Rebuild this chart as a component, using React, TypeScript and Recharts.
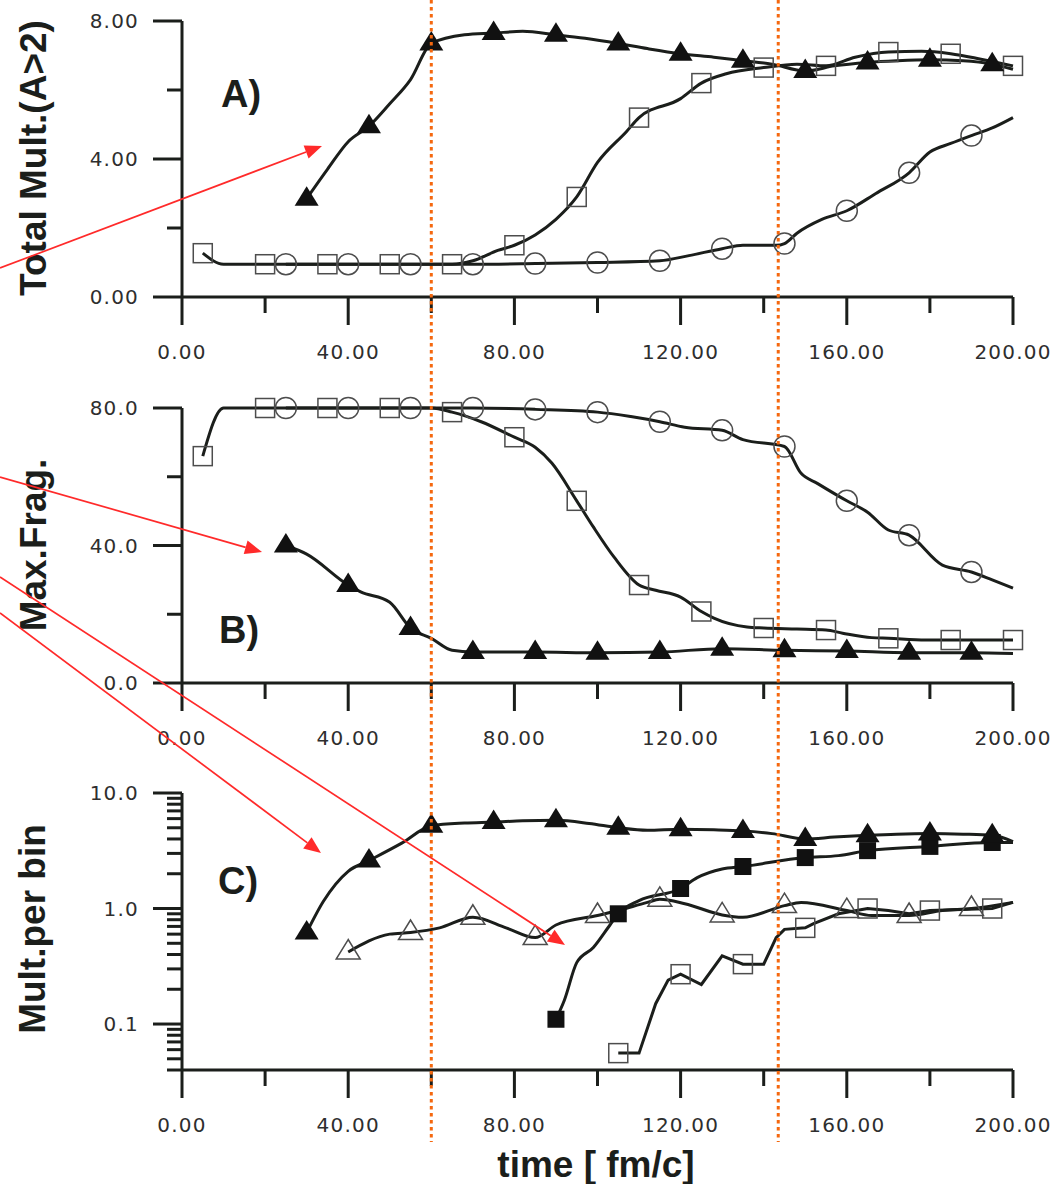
import { Line, LineChart, XAxis, YAxis } from "recharts";

// ---- data (time in fm/c) ----
const X_MAJOR = [0, 40, 80, 120, 160, 200];
const X_MINOR = [20, 60, 100, 140, 180];

// A) total multiplicity
const A_Y_MAJOR = [0, 4, 8];
const A_Y_MINOR = [2, 6];
const A_TRI_T = [30, 35, 40, 45, 50, 55, 60, 68, 75, 82, 90, 97, 105, 112, 120, 128, 135, 142, 150, 157, 165, 172, 180, 188, 195, 200];
const A_TRI_V = [2.85, 3.7, 4.5, 4.95, 5.6, 6.3, 7.35, 7.6, 7.65, 7.7, 7.6, 7.5, 7.35, 7.2, 7.05, 6.95, 6.85, 6.75, 6.55, 6.7, 6.8, 6.85, 6.88, 6.85, 6.75, 6.6];
const A_TRI_M = [30, 45, 60, 75, 90, 105, 120, 135, 150, 165, 180, 195];
const A_SQ_T = [5, 10, 20, 35, 50, 65, 70, 76, 80, 85, 90, 95, 100, 107, 110, 120, 125, 131, 140, 148, 155, 162, 170, 178, 185, 192, 200];
const A_SQ_V = [1.27, 0.95, 0.95, 0.95, 0.95, 0.95, 1.05, 1.35, 1.5, 1.8, 2.25, 2.9, 3.9, 4.8, 5.2, 5.75, 6.2, 6.47, 6.65, 6.75, 6.7, 6.95, 7.1, 7.12, 7.05, 6.9, 6.7];
const A_SQ_M = [5, 20, 35, 50, 65, 80, 95, 110, 125, 140, 155, 170, 185, 200];
const A_CIR_T = [25, 40, 55, 70, 85, 100, 115, 122, 130, 135, 143, 145, 148, 154, 160, 167, 175, 180, 185, 190, 195, 200];
const A_CIR_V = [0.95, 0.95, 0.95, 0.95, 0.97, 1.0, 1.05, 1.2, 1.4, 1.5, 1.5, 1.55, 1.85, 2.25, 2.5, 3.0, 3.6, 4.2, 4.45, 4.68, 4.9, 5.2];
const A_CIR_M = [25, 40, 55, 70, 85, 100, 115, 130, 145, 160, 175, 190];

// B) max. fragment
const B_Y_MAJOR = [0, 40, 80];
const B_Y_MINOR = [20, 60];
const B_SQ_T = [5, 10, 20, 35, 50, 60, 65, 72, 80, 85, 89, 95, 99, 104, 110, 114, 120, 125, 128, 136, 140, 148, 155, 159, 166, 170, 179, 185, 200];
const B_SQ_V = [66, 80, 80, 80, 80, 80, 78.8, 76, 71.5, 68.6, 64, 53, 45.4, 36.6, 28.5, 27, 25, 20.8, 18.9, 16.3, 16, 15.7, 15.4, 14.5, 13.2, 13, 12.5, 12.5, 12.5];
const B_SQ_M = [5, 20, 35, 50, 65, 80, 95, 110, 125, 140, 155, 170, 185, 200];
const B_CIR_T = [25, 40, 55, 70, 85, 100, 108, 115, 121, 130, 135, 145, 149, 153, 160, 165, 170, 175, 183, 190, 195, 200];
const B_CIR_V = [80, 80, 80, 80, 79.6, 78.8, 77.5, 76, 74.4, 73.5, 70.8, 68.8, 61, 58, 53, 49.7, 44.5, 43, 34.3, 32.3, 30, 27.6];
const B_CIR_M = [25, 40, 55, 70, 85, 100, 115, 130, 145, 160, 175, 190];
const B_TRI_T = [25, 30, 40, 43, 50, 55, 60, 65, 70, 85, 100, 115, 130, 145, 160, 175, 190, 200];
const B_TRI_V = [40, 37.5, 28.5, 26.5, 23.5, 16, 13, 9.5, 9, 9, 8.8, 9, 10, 9.5, 9.3, 8.8, 8.8, 8.6];
const B_TRI_M = [25, 40, 55, 70, 85, 100, 115, 130, 145, 160, 175, 190];

// C) multiplicity per bin (log)
const C_Y_MAJOR = [0.1, 1, 10];
const C_Y_MINOR = [0.04, 0.05, 0.06, 0.07, 0.08, 0.09, 0.2, 0.3, 0.4, 0.5, 0.6, 0.7, 0.8, 0.9, 2, 3, 4, 5, 6, 7, 8, 9];
const C_TRI_T = [30, 34, 40, 45, 53, 60, 68, 75, 82, 90, 98, 105, 112, 120, 128, 135, 142, 150, 157, 165, 172, 180, 188, 195, 200];
const C_TRI_V = [0.62, 1.15, 2.1, 2.6, 3.7, 5.2, 5.5, 5.6, 5.75, 5.8, 5.45, 5.0, 4.75, 4.85, 4.8, 4.7, 4.45, 4.0, 4.15, 4.3, 4.4, 4.45, 4.4, 4.3, 3.8];
const C_TRI_M = [30, 45, 60, 75, 90, 105, 120, 135, 150, 165, 180, 195];
const C_FSQ_T = [90, 92, 95, 99, 103, 105, 110, 120, 124, 130, 135, 150, 158, 165, 180, 195, 200];
const C_FSQ_V = [0.11, 0.16, 0.34, 0.46, 0.72, 0.9, 1.17, 1.49, 1.85, 2.2, 2.31, 2.76, 2.87, 3.17, 3.45, 3.73, 3.73];
const C_FSQ_M = [90, 105, 120, 135, 150, 165, 180, 195];
const C_OTRI_T = [40, 50, 55, 62, 70, 78, 85, 90, 100, 105, 112, 115, 121, 130, 135, 145, 149, 160, 166, 175, 183, 190, 200];
const C_OTRI_V = [0.42, 0.6, 0.62, 0.68, 0.84, 0.68, 0.56, 0.72, 0.87, 0.96, 1.13, 1.2, 1.1, 0.88, 0.84, 1.06, 1.13, 0.96, 0.87, 0.87, 0.96, 1.0, 1.13];
const C_OTRI_M = [40, 55, 70, 85, 100, 115, 130, 145, 160, 175, 190];
const C_OSQ_T = [105, 110, 114, 117, 120, 125, 130, 135, 140, 143, 145, 150, 152, 158, 165, 170, 175, 180, 195, 200];
const C_OSQ_V = [0.056, 0.056, 0.15, 0.24, 0.27, 0.22, 0.39, 0.33, 0.33, 0.56, 0.66, 0.68, 0.74, 0.9, 1.0, 0.96, 0.9, 0.96, 1.0, 1.13];
const C_OSQ_M = [105, 120, 135, 150, 165, 180, 195];

// annotations: the two dotted time marks and the red arrows
const MARK_TIMES = [60, 143.5];
const ARROWS = [
  [0, 268, 322, 146],
  [0, 477, 262, 552],
  [0, 613, 321, 853],
  [0, 577, 565, 945],
];

// ---- layout ----
const W = 1057;
const PLOT_LEFT = 182;
const PLOT_RIGHT = 1013;
const X_AXIS_H = 60;
const INK = "#1b1e1b";
const OPEN = "#4d4d4d";
const SANS = "'Liberation Sans', Arial, sans-serif";
const TICK_FONT = "'DejaVu Sans', sans-serif";

// tick lengths (major/minor) and gap between tick end and label
const X_TICK = { major: 28, minor: 16, gap: 20 };
const Y_TICK = { major: 29, minor: 15, gap: 14 };

// where each panel sits on the page
const PANEL_A = { top: 0, height: 380, plotTop: 21, plotH: 276, yDomain: [0, 8] as [number, number], yMajor: A_Y_MAJOR, log: false };
const PANEL_B = { top: 380, height: 380, plotTop: 28, plotH: 275, yDomain: [0, 80] as [number, number], yMajor: B_Y_MAJOR, log: false };
const PANEL_C = { top: 760, height: 424, plotTop: 33, plotH: 277, yDomain: [0.04, 10] as [number, number], yMajor: C_Y_MAJOR, log: true };

type Marker = "tri" | "otri" | "sq" | "fsq" | "cir";

const pts = (t: number[], v: number[]) => t.map((x, i) => ({ t: x, v: v[i] }));
const merged = (a: number[], b: number[]) => [...a, ...b].sort((p, q) => p - q);

function TickLabel({ x, y, dy, anchor, text }: { x: number; y: number; dy: string; anchor: "middle" | "end"; text: string }) {
  return (
    <text x={x} y={y} dy={dy} textAnchor={anchor} fontSize={20} fontFamily={TICK_FONT} fill="#2e2e2e" stroke="none" letterSpacing={1.2}>
      {text}
    </text>
  );
}

// each axis carries major + minor ticks; the renderer draws the short minor
// tick lines and the labels of the major ones
function xTick(major: number[], fmt: (v: number) => string, axisY: number) {
  const isMajor = new Set(major);
  return (p: any) => {
    const v = p.payload?.value;
    if (isMajor.has(v)) {
      return <TickLabel x={p.x} y={axisY + X_TICK.major + X_TICK.gap} dy="0.71em" anchor="middle" text={fmt(v)} />;
    }
    return <line x1={p.x} x2={p.x} y1={axisY} y2={axisY + X_TICK.minor} stroke={INK} strokeWidth={3} />;
  };
}

function yTick(major: number[], fmt: (v: number) => string, axisX: number) {
  const isMajor = new Set(major);
  return (p: any) => {
    const v = p.payload?.value;
    if (isMajor.has(v)) {
      return <TickLabel x={axisX - Y_TICK.major - Y_TICK.gap} y={p.y} dy="0.36em" anchor="end" text={fmt(v)} />;
    }
    return <line x1={axisX - Y_TICK.minor} x2={axisX} y1={p.y} y2={p.y} stroke={INK} strokeWidth={3} />;
  };
}

function MarkerShape({ kind, cx, cy }: { kind: Marker; cx: number; cy: number }) {
  switch (kind) {
    case "tri":
    case "otri": {
      const p = `${cx},${cy - 12.5} ${cx - 12},${cy + 7} ${cx + 12},${cy + 7}`;
      return kind === "tri" ? (
        <polygon points={p} fill="#111" />
      ) : (
        <polygon points={p} fill="none" stroke={OPEN} strokeWidth={1.5} />
      );
    }
    case "sq":
      return <rect x={cx - 9.5} y={cy - 9.5} width={19} height={19} fill="none" stroke={OPEN} strokeWidth={1.5} />;
    case "fsq":
      return <rect x={cx - 8.5} y={cy - 8.5} width={17} height={17} fill="#111" />;
    default:
      return <circle cx={cx} cy={cy} r={10.5} fill="none" stroke={OPEN} strokeWidth={1.5} />;
  }
}

function makeDot(kind: Marker, marks: number[]) {
  const on = new Set(marks);
  return (p: any) => {
    const key = `${kind}-${p.index}`;
    if (p.cx == null || p.cy == null || !on.has(p.payload?.t)) return <g key={key} />;
    return (
      <g key={key}>
        <MarkerShape kind={kind} cx={p.cx} cy={p.cy} />
      </g>
    );
  };
}

interface Series {
  id: string;
  t: number[];
  v: number[];
  marks: number[];
  kind: Marker;
  curve?: "monotone" | "linear";
}

interface PanelProps {
  geo: typeof PANEL_A;
  yMinor: number[];
  yFmt: (v: number) => string;
  series: Series[];
}

function Panel({ geo, yMinor, yFmt, series }: PanelProps) {
  const { top, height, plotTop, plotH, yDomain, yMajor, log } = geo;
  const bottom = height - plotTop - plotH - X_AXIS_H;
  return (
    <div style={{ position: "absolute", left: 0, top }}>
      <LineChart width={W} height={height} margin={{ top: plotTop, right: W - PLOT_RIGHT, bottom, left: 0 }}>
        <XAxis
          type="number"
          dataKey="t"
          domain={[0, 200]}
          ticks={merged(X_MAJOR, X_MINOR)}
          interval={0}
          tick={xTick(X_MAJOR, (v) => v.toFixed(2), plotTop + plotH)}
          tickSize={X_TICK.major}
          tickMargin={X_TICK.gap}
          tickLine={{ stroke: "none" }}
          axisLine={{ stroke: INK, strokeWidth: 3 }}
          height={X_AXIS_H}
        />
        <YAxis
          type="number"
          scale={log ? "log" : "auto"}
          domain={yDomain}
          ticks={merged(yMajor, yMinor)}
          interval={0}
          tick={yTick(yMajor, yFmt, PLOT_LEFT)}
          tickSize={Y_TICK.major}
          tickMargin={Y_TICK.gap}
          tickLine={{ stroke: "none" }}
          axisLine={{ stroke: INK, strokeWidth: 3 }}
          width={PLOT_LEFT}
        />
        {series.map((s) => (
          <Line
            key={s.id}
            data={pts(s.t, s.v)}
            dataKey="v"
            type={s.curve ?? "monotone"}
            stroke={INK}
            strokeWidth={3}
            dot={makeDot(s.kind, s.marks)}
            activeDot={false}
            isAnimationActive={false}
          />
        ))}
      </LineChart>
    </div>
  );
}

// long (major) tick marks of every panel, placed from the panel geometry
function MajorTicks({ geo }: { geo: typeof PANEL_A }) {
  const { top, plotTop, plotH, yDomain, yMajor, log } = geo;
  const [lo, hi] = yDomain;
  const frac = (v: number) => (log ? Math.log10(v / lo) / Math.log10(hi / lo) : (v - lo) / (hi - lo));
  const axisY = top + plotTop + plotH;
  const xOf = (t: number) => PLOT_LEFT + (t * (PLOT_RIGHT - PLOT_LEFT)) / 200;
  return (
    <g stroke={INK} strokeWidth={3}>
      {yMajor.map((v) => {
        const y = top + plotTop + (1 - frac(v)) * plotH;
        return <line key={`y${v}`} x1={PLOT_LEFT - Y_TICK.major} x2={PLOT_LEFT} y1={y} y2={y} />;
      })}
      {X_MAJOR.map((t) => (
        <line key={`x${t}`} x1={xOf(t)} x2={xOf(t)} y1={axisY} y2={axisY + X_TICK.major} />
      ))}
    </g>
  );
}

function Overlay() {
  const xOf = (t: number) => PLOT_LEFT + (t * (PLOT_RIGHT - PLOT_LEFT)) / 200;
  const titleStyle = { fontFamily: SANS, fontWeight: 700, fill: INK } as const;
  return (
    <svg width={W} height={1184} style={{ position: "absolute", left: 0, top: 0, pointerEvents: "none" }}>
      <MajorTicks geo={PANEL_A} />
      <MajorTicks geo={PANEL_B} />
      <MajorTicks geo={PANEL_C} />

      {MARK_TIMES.map((t) => (
        <line key={t} x1={xOf(t)} x2={xOf(t)} y1={0} y2={1142} stroke="#f5680f" strokeWidth={3} strokeDasharray="3.5 3.5" />
      ))}

      <text x={221} y={107} fontSize={38} {...titleStyle}>A)</text>
      <text x={219} y={643} fontSize={38} {...titleStyle}>B)</text>
      <text x={218} y={894} fontSize={38} {...titleStyle}>C)</text>

      <text transform="translate(45.5,158) rotate(-90)" textAnchor="middle" fontSize={37} {...titleStyle}>Total Mult.(A&gt;2)</text>
      <text transform="translate(45.5,545) rotate(-90)" textAnchor="middle" fontSize={37} {...titleStyle}>Max.Frag.</text>
      <text transform="translate(44.5,929) rotate(-90)" textAnchor="middle" fontSize={37} {...titleStyle}>Mult.per bin</text>
      <text x={596} y={1177} textAnchor="middle" fontSize={37} {...titleStyle}>time [ fm/c]</text>

      {ARROWS.map(([x1, y1, x2, y2], i) => {
        const len = Math.hypot(x2 - x1, y2 - y1);
        const ux = (x2 - x1) / len;
        const uy = (y2 - y1) / len;
        const bx = x2 - ux * 17;
        const by = y2 - uy * 17;
        const head = `${x2},${y2} ${bx - uy * 7},${by + ux * 7} ${bx + uy * 7},${by - ux * 7}`;
        return (
          <g key={i}>
            <line x1={x1} y1={y1} x2={bx} y2={by} stroke="#ff2a2a" strokeWidth={1.7} />
            <polygon points={head} fill="#ff2a2a" />
          </g>
        );
      })}
    </svg>
  );
}

export default function App() {
  return (
    <div style={{ position: "absolute", left: 0, top: 0, width: W, height: 1184, background: "#fff", fontFamily: SANS }}>
      <Panel
        geo={PANEL_A}
        yMinor={A_Y_MINOR}
        yFmt={(v) => v.toFixed(2)}
        series={[
          { id: "a-sq", t: A_SQ_T, v: A_SQ_V, marks: A_SQ_M, kind: "sq" },
          { id: "a-cir", t: A_CIR_T, v: A_CIR_V, marks: A_CIR_M, kind: "cir" },
          { id: "a-tri", t: A_TRI_T, v: A_TRI_V, marks: A_TRI_M, kind: "tri" },
        ]}
      />
      <Panel
        geo={PANEL_B}
        yMinor={B_Y_MINOR}
        yFmt={(v) => v.toFixed(1)}
        series={[
          { id: "b-sq", t: B_SQ_T, v: B_SQ_V, marks: B_SQ_M, kind: "sq" },
          { id: "b-cir", t: B_CIR_T, v: B_CIR_V, marks: B_CIR_M, kind: "cir" },
          { id: "b-tri", t: B_TRI_T, v: B_TRI_V, marks: B_TRI_M, kind: "tri" },
        ]}
      />
      <Panel
        geo={PANEL_C}
        yMinor={C_Y_MINOR}
        yFmt={(v) => v.toFixed(1)}
        series={[
          { id: "c-osq", t: C_OSQ_T, v: C_OSQ_V, marks: C_OSQ_M, kind: "sq", curve: "linear" },
          { id: "c-otri", t: C_OTRI_T, v: C_OTRI_V, marks: C_OTRI_M, kind: "otri" },
          { id: "c-fsq", t: C_FSQ_T, v: C_FSQ_V, marks: C_FSQ_M, kind: "fsq" },
          { id: "c-tri", t: C_TRI_T, v: C_TRI_V, marks: C_TRI_M, kind: "tri" },
        ]}
      />
      <Overlay />
    </div>
  );
}
